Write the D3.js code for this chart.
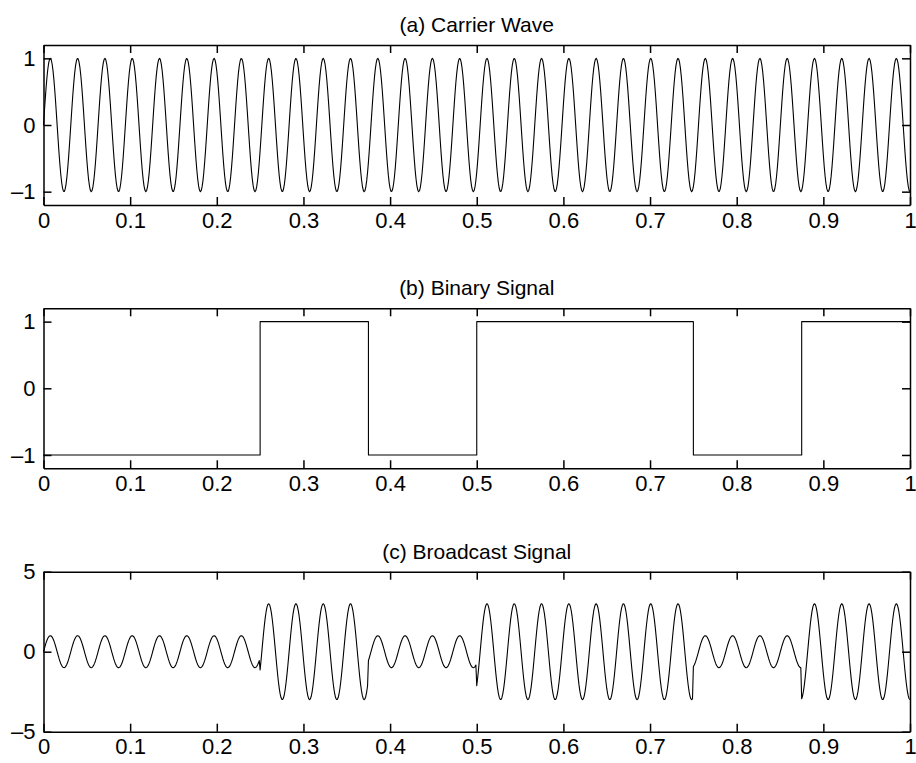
<!DOCTYPE html>
<html lang="en">
<head>
  <meta charset="UTF-8">
  <title>Signals</title>
  <style>
    body { margin: 0; background: #fff; }
    svg { display: block; }
    text { font-family: "Liberation Sans", Arial, Helvetica, sans-serif; fill: #000; }
    .axis path, .axis line { stroke: #000; stroke-width: 1.5; }
  </style>
</head>
<body>
  <script src="https://d3js.org/d3.v7.min.js"></script>
  <script>
    // data
    const titles = ['(a) Carrier Wave', '(b) Binary Signal', '(c) Broadcast Signal']
    const bits = [0, 0, 1, 0, 1, 1, 0, 1]          // one bit per 1/8 of the time axis
    const bitLevels = [-1, 1]                       // binary plot value for bit 0 / 1
    const bitAmplitudes = [1, 3]                    // broadcast amplitude for bit 0 / 1
    const carrierFreq = 31.75                       // cycles across the plot (ends on a trough)
    const sampleStep = 0.001
    const xTicks = [0, 0.1, 0.2, 0.3, 0.4, 0.5, 0.6, 0.7, 0.8, 0.9, 1]
    const yDomains = [[-1.2, 1.2], [-1.2, 1.2], [-5, 5]]
    const yTicks = [[-1, 0, 1], [-1, 0, 1], [-5, 0, 5]]

    const width = 916, height = 763
    const left = 43.5, right = 910
    const tops = [45, 308.3, 571.7]
    const plotH = 160
    const fontSize = 22

    const svg = d3.select('body').append('svg')
      .attr('width', width)
      .attr('height', height)

    const x = d3.scaleLinear().domain([0, 1]).range([left, right])

    // samples of the time axis
    const times = d3.range(0, 1 + sampleStep / 2, sampleStep)
    const bitAt = t => bits[Math.min(bits.length - 1, Math.floor(t * bits.length + 1e-9))]

    const carrier = times.map(t => [t, Math.sin(2 * Math.PI * carrierFreq * t)])
    const binary = bits.map((b, i) => [i / bits.length, bitLevels[b]])
    binary.push([1, bitLevels[bits[bits.length - 1]]])
    const broadcast = carrier.map(([t, v]) => [t, v * bitAmplitudes[bitAt(t)]])

    const series = [carrier, binary, broadcast]
    const fmt = d => (d < 0 ? '\u2013' + Math.abs(d) : String(d))

    series.forEach((data, k) => {
      const top = tops[k], bottom = top + plotH
      const y = d3.scaleLinear().domain(yDomains[k]).range([bottom, top])
      const g = svg.append('g')

      g.append('text')
        .attr('x', (left + right) / 2)
        .attr('y', top - 13)
        .attr('text-anchor', 'middle')
        .attr('font-size', 21)
        .text(titles[k])

      const line = d3.line()
        .x(d => x(d[0]))
        .y(d => y(d[1]))
      if (k === 1) line.curve(d3.curveStepAfter)

      g.append('path')
        .datum(data)
        .attr('fill', 'none')
        .attr('stroke', '#000')
        .attr('stroke-width', 1.1)
        .attr('stroke-linejoin', 'round')
        .attr('d', line)

      // box with inward ticks
      g.append('g').attr('class', 'axis')
        .attr('transform', `translate(0,${bottom})`)
        .call(d3.axisBottom(x).tickValues(xTicks).tickSizeInner(-8).tickSizeOuter(0)
          .tickPadding(7).tickFormat(d3.format('')))
      g.append('g').attr('class', 'axis')
        .attr('transform', `translate(0,${top})`)
        .call(d3.axisTop(x).tickValues(xTicks).tickSizeInner(-8).tickSizeOuter(0).tickFormat(''))
      g.append('g').attr('class', 'axis')
        .attr('transform', `translate(${left},0)`)
        .call(d3.axisLeft(y).tickValues(yTicks[k]).tickSizeInner(-8).tickSizeOuter(0)
          .tickPadding(8).tickFormat(fmt))
      g.append('g').attr('class', 'axis')
        .attr('transform', `translate(${right},0)`)
        .call(d3.axisRight(y).tickValues(yTicks[k]).tickSizeInner(-8).tickSizeOuter(0).tickFormat(''))

      g.selectAll('.axis')
        .attr('font-family', null)
        .attr('font-size', fontSize)
    })
  </script>
</body>
</html>
